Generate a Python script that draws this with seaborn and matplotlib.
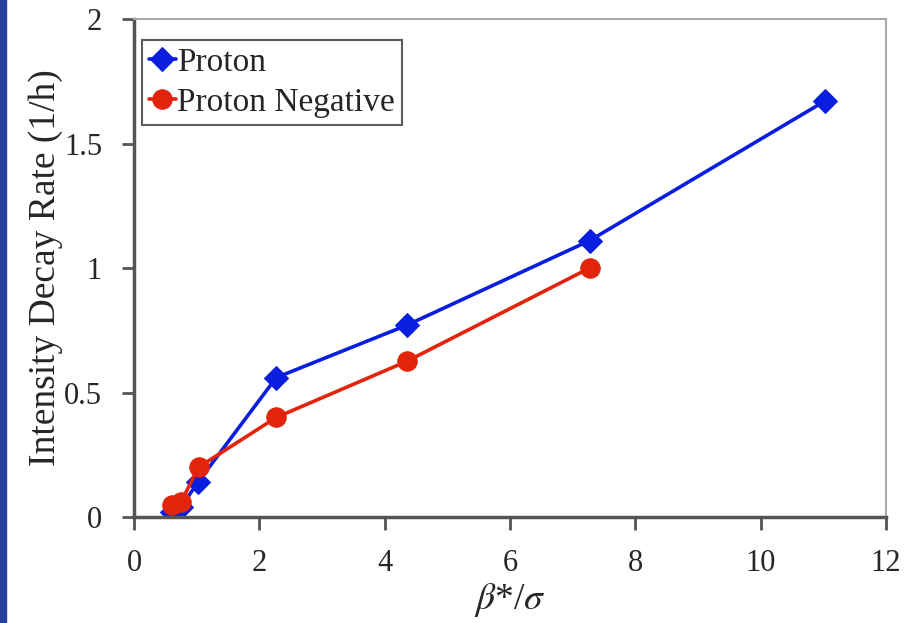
import matplotlib
matplotlib.use("Agg")
import matplotlib.pyplot as plt
import seaborn as sns
from matplotlib.patches import Rectangle

# data
proton_x = [0.6, 0.75, 1.02, 2.27, 4.35, 7.27, 11.02]
proton_y = [0.02, 0.04, 0.14, 0.56, 0.77, 1.11, 1.67]
neg_x = [0.6, 0.75, 1.03, 2.27, 4.35, 7.27]
neg_y = [0.05, 0.06, 0.20, 0.40, 0.625, 1.00]

x_ticks = [0, 2, 4, 6, 8, 10, 12]
y_ticks = [0, 0.5, 1, 1.5, 2]
y_labels = ["0", "0.5", "1", "1.5", "2"]

sns.set_style("white")
plt.rcParams['font.family'] = ['Liberation Serif', 'DejaVu Serif']
plt.rcParams['mathtext.fontset'] = 'stix'

fig = plt.figure(figsize=(9.06, 6.23), dpi=100)
ax = fig.add_axes([0.1479, 0.1701, 0.8301, 0.7994])

# dark blue strip at the left edge of the slide
fig.patches.append(Rectangle((0, 0), 0.007, 1, transform=fig.transFigure,
                             color='#27409a', zorder=0))

blue = '#0a1ee0'
red = '#e3240c'
sns.lineplot(x=proton_x, y=proton_y, sort=False, ax=ax, color=blue, lw=2.6,
             marker='D', markersize=12, markeredgecolor=blue, label='Proton')
sns.lineplot(x=neg_x, y=neg_y, sort=False, ax=ax, color=red, lw=2.6,
             marker='o', markersize=14, markeredgecolor=red, label='Proton Negative')

ax.set_xlim(0, 12)
ax.set_ylim(0, 2)
ax.set_xticks(x_ticks)
ax.set_yticks(y_ticks)
ax.set_yticklabels(y_labels)
ax.tick_params(axis='both', labelsize=22, direction='out', length=9, width=2,
               color='#555555', left=True, bottom=True)
ax.tick_params(axis='y', pad=14)
ax.tick_params(axis='x', pad=14)

for s in ['left', 'bottom']:
    ax.spines[s].set_color('#555555')
    ax.spines[s].set_linewidth(2.5)
for s in ['top', 'right']:
    ax.spines[s].set_color('#aaaaaa')
    ax.spines[s].set_linewidth(1.5)

ax.set_xlabel(r'$\beta$*/$\sigma$', fontsize=27, labelpad=2)
ax.set_ylabel('Intensity Decay Rate (1/h)', fontsize=27, labelpad=1)

leg = ax.legend(loc='upper left', bbox_to_anchor=(0.011, 0.957), fontsize=24,
                frameon=True, fancybox=False, handlelength=0.8, handletextpad=0.05,
                borderpad=0.2, labelspacing=0.3, borderaxespad=0)
leg.get_frame().set_edgecolor('#333333')
leg.get_frame().set_linewidth(1.5)

fig.savefig("out.png", dpi=100)
